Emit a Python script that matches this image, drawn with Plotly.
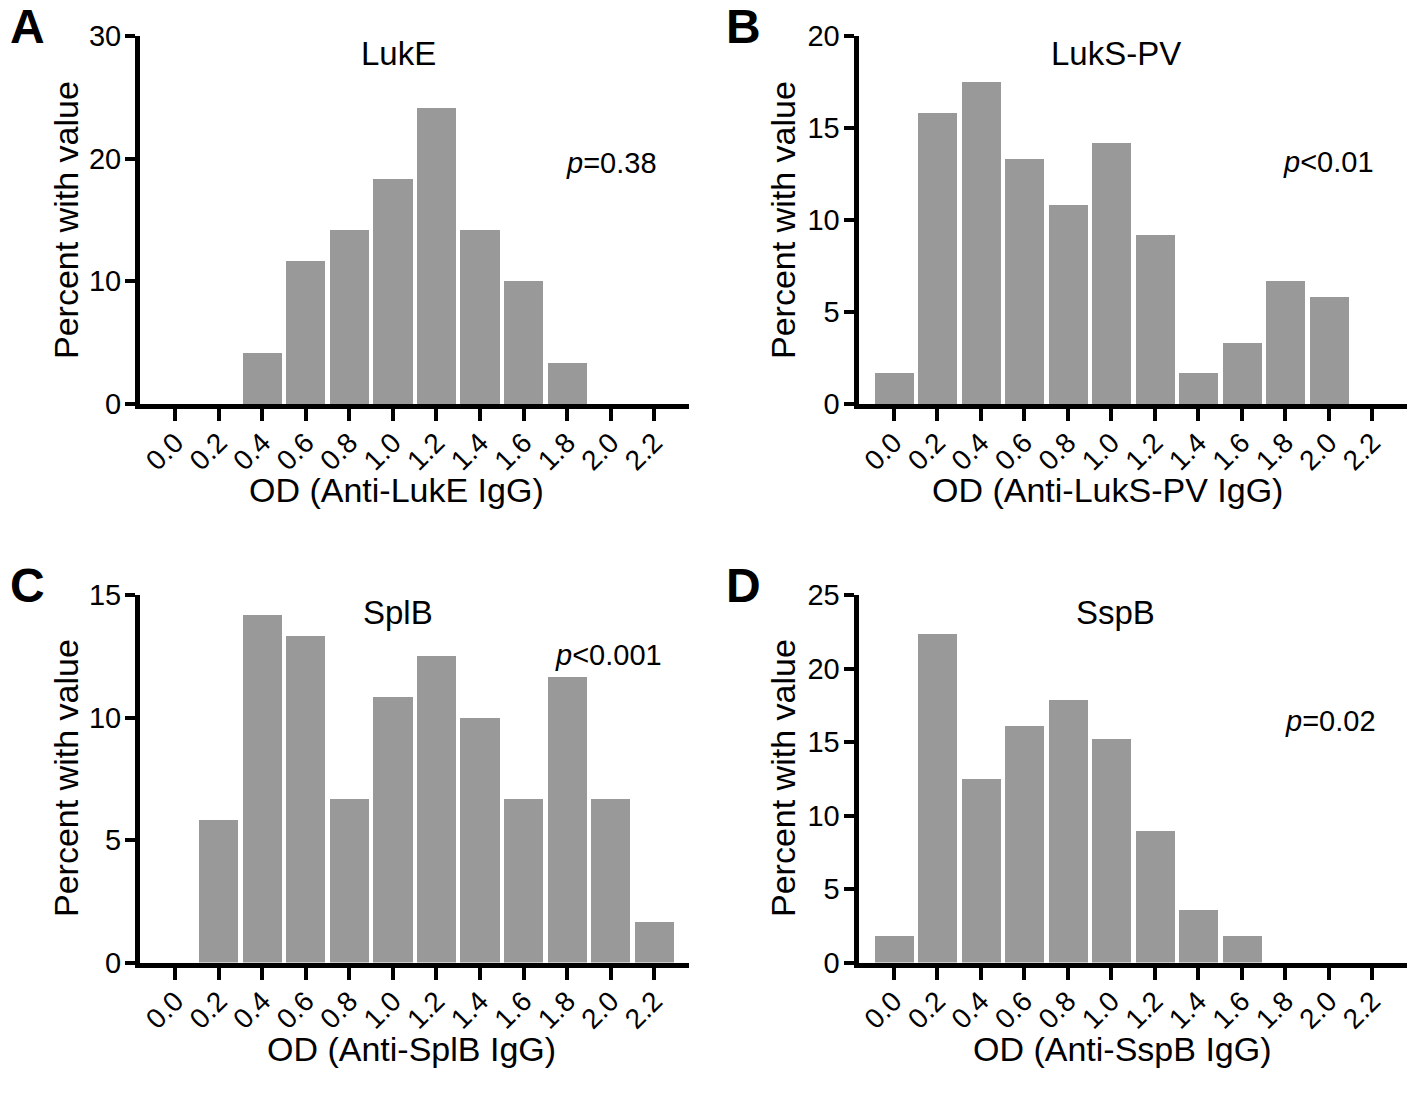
import plotly.graph_objects as go

# ---- data ----
od_bins = [0.0, 0.2, 0.4, 0.6, 0.8, 1.0, 1.2, 1.4, 1.6, 1.8, 2.0, 2.2]
od_labels = ["0.0", "0.2", "0.4", "0.6", "0.8", "1.0", "1.2", "1.4", "1.6", "1.8", "2.0", "2.2"]

luke_pct = [0, 0, 4.17, 11.67, 14.17, 18.33, 24.17, 14.17, 10.0, 3.33, 0, 0]
luks_pct = [1.67, 15.83, 17.5, 13.33, 10.83, 14.17, 9.17, 1.67, 3.33, 6.67, 5.83, 0]
splb_pct = [0, 5.83, 14.17, 13.33, 6.67, 10.83, 12.5, 10.0, 6.67, 11.67, 6.67, 1.67]
sspb_pct = [1.79, 22.32, 12.5, 16.07, 17.86, 15.18, 8.93, 3.57, 1.79, 0, 0, 0]

panel_names = ["LukE", "LukS-PV", "SplB", "SspB"]
panel_letters = ["A", "B", "C", "D"]
x_titles = ["OD (Anti-LukE IgG)", "OD (Anti-LukS-PV IgG)", "OD (Anti-SplB IgG)", "OD (Anti-SspB IgG)"]
p_texts = ["<i>p</i>=0.38", "<i>p</i><0.01", "<i>p</i><0.001", "<i>p</i>=0.02"]
y_max = [30, 20, 15, 25]
y_ticks = [[0, 10, 20, 30], [0, 5, 10, 15, 20], [0, 5, 10, 15], [0, 5, 10, 15, 20, 25]]
series = [luke_pct, luks_pct, splb_pct, sspb_pct]

W, H = 1419, 1093
FONT = "Liberation Sans, Arial, Helvetica, sans-serif"

def px(x):
    return x / W

def py(y):
    return 1 - y / H

# axis pixel boxes: (left, right, top, bottom)
boxes = [(140, 689, 36, 404), (858.5, 1407, 36, 404),
         (140, 689, 595, 962.5), (858.5, 1407, 595, 962.5)]

fig = go.Figure()
layout = {}
for i in range(4):
    n = "" if i == 0 else str(i + 1)
    xa, ya = "x" + n, "y" + n
    fig.add_trace(go.Bar(
        x=od_bins, y=series[i], width=0.18,
        marker=dict(color="#999999", line=dict(width=0)),
        xaxis=xa, yaxis=ya, showlegend=False, hoverinfo="x+y"))
    l, r, t, b = boxes[i]
    layout["xaxis" + n] = dict(
        domain=[px(l), px(r)], anchor=ya, range=[-0.162, 2.36],
        tickmode="array", tickvals=od_bins, ticktext=od_labels, tickangle=-45,
        ticks="outside", ticklen=12, tickwidth=4, tickcolor="black",
        ticklabelstandoff=-6, automargin=False,
        showline=True, linecolor="black", linewidth=5,
        showgrid=False, zeroline=False,
        tickfont=dict(family=FONT, size=28, color="black"))
    layout["yaxis" + n] = dict(
        domain=[py(b), py(t)], anchor=xa, range=[0, y_max[i]],
        tickmode="array", tickvals=y_ticks[i],
        ticks="outside", ticklen=10, tickwidth=4, tickcolor="black",
        ticklabelstandoff=-2, automargin=False,
        showline=True, linecolor="black", linewidth=5,
        showgrid=False, zeroline=False,
        tickfont=dict(family=FONT, size=29, color="black"))

ann = []
def add_text(text, x, y, size, bold=False, angle=0):
    ann.append(dict(text=("<b>%s</b>" % text) if bold else text,
                    x=px(x), y=py(y), xref="paper", yref="paper",
                    xanchor="center", yanchor="middle", showarrow=False,
                    textangle=angle,
                    font=dict(family=FONT, size=size, color="black")))

letter_pos = [(27, 27), (743, 27), (27, 585), (743, 585)]
title_pos = [(398, 53), (1116, 53), (398, 612), (1115, 612)]
xt_pos = [(396, 490), (1107, 490), (412, 1049), (1122, 1049)]
yt_pos = [(66, 220), (783, 220), (66, 778), (783, 778)]
p_pos = [(611, 163), (1328, 162), (608, 655), (1330, 721)]

for i in range(4):
    add_text(panel_letters[i], *letter_pos[i], 48, bold=True)
    add_text(panel_names[i], *title_pos[i], 33)
    add_text(x_titles[i], *xt_pos[i], 34)
    add_text("Percent with value", *yt_pos[i], 34, angle=-90)
    add_text(p_texts[i], *p_pos[i], 29)

fig.update_layout(**layout)
fig.update_layout(
    width=W, height=H, margin=dict(l=0, r=0, t=0, b=0, autoexpand=False),
    paper_bgcolor="white", plot_bgcolor="white",
    annotations=ann, bargap=0, showlegend=False,
    font=dict(family=FONT, color="black"))

fig.write_html("out.html", config={"displayModeBar": False},
               post_script="document.body.style.margin='0';document.body.style.padding='0';")
